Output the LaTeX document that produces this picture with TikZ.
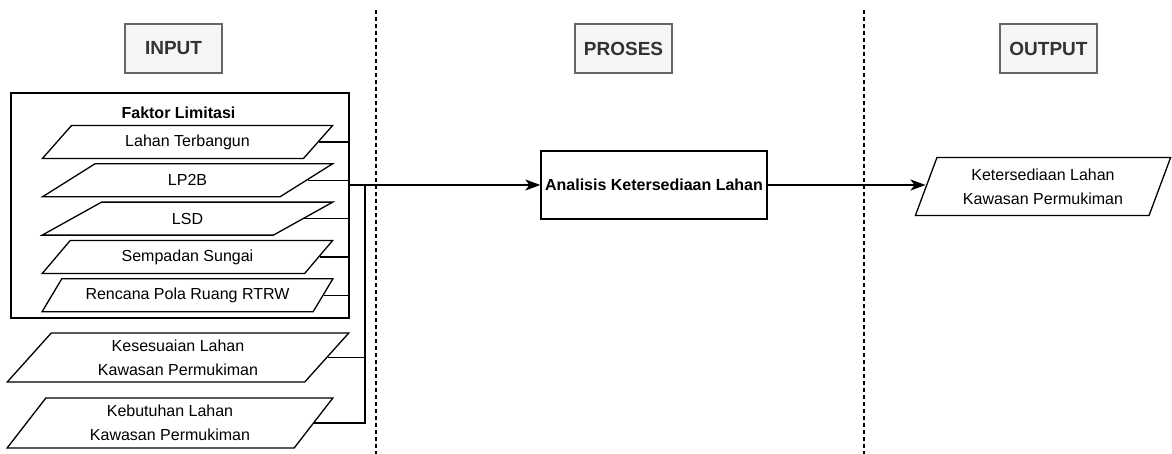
\documentclass[tikz,border=0pt]{standalone}
\usepackage{fontspec}
\setmainfont{Liberation Sans}
\usepackage{tikz}
\usetikzlibrary{%
  shapes.geometric,
  arrows.meta,
  positioning,
  calc}
\tikzset{
  %% Column headers
  hdrbox/.style={
    rectangle, draw=black!60, fill=black!4, line width=1.3pt,
    minimum width=97pt, minimum height=49pt, text=black!80,
    font=\fontsize{19}{23}\selectfont\bfseries},
  %% Group frame
  groupbox/.style={
    rectangle, draw=black, line width=1.3pt,
    minimum width=338pt, minimum height=225pt},
  grouptitle/.style={
    font=\fontsize{16}{20}\selectfont\bfseries, inner sep=0pt},
  %% Data boxes (parallelograms)
  databox/.style={
    trapezium, trapezium stretches=true,
    draw=black, line width=1.3pt, fill=white,
    align=center, inner xsep=4pt, inner ysep=2pt,
    font=\fontsize{16}{24}\selectfont},
  factorbox/.style={
    databox, trapezium left angle=48.6, trapezium right angle=131.4,
    minimum width=291pt, minimum height=33pt},
  %% Process box
  procbox/.style={
    rectangle, draw=black, line width=1.3pt,
    minimum width=226pt, minimum height=68pt, inner sep=0pt,
    font=\fontsize{16}{20}\selectfont\bfseries},
  %% Lines
  link/.style={line width=1.3pt},
  arrow/.style={-{Stealth[length=15pt, width=11pt, inset=4pt]}, line width=1.3pt},
  divider/.style={line width=1.3pt, dash pattern=on 4pt off 3pt},
}

\begin{document}
\begin{tikzpicture}[x=1pt, y=-1pt, node distance=4pt]
  \useasboundingbox (0,0) rectangle (1172,454);

  %% column dividers
  \draw[divider] (376,10) -- (376,454);
  \draw[divider] (864,10) -- (864,454);

  \node[hdrbox] (hin)  at (173.5,48.5)  {INPUT};
  \node[hdrbox] (hpro) at (623.5,48.5)  {PROSES};
  \node[hdrbox] (hout) at (1048.5,48.5) {OUTPUT};

  %% limiting factors
  \node[groupbox] (faktor) at (180,205.5) {};
  \node[grouptitle] (ftitle) at (178.5,113) {Faktor Limitasi};
  \node[factorbox] (lahan) at (187.5,142) {Lahan Terbangun};
  \node[factorbox, below=of lahan] (lp2b) {LP2B};
  \node[factorbox, below=of lp2b] (lsd) {LSD};
  \node[factorbox, below=of lsd] (sempadan) {Sempadan Sungai};
  \node[factorbox, below=of sempadan] (rtrw) {Rencana Pola Ruang RTRW};

  \node[databox, trapezium left angle=53.7, trapezium right angle=126.3,
        minimum width=342pt, minimum height=49pt] (sesuai) at (178,357.5)
        {Kesesuaian Lahan\\ Kawasan Permukiman};
  \node[databox, trapezium left angle=56.6, trapezium right angle=123.4,
        minimum width=326pt, minimum height=50pt] (butuh) at (170,423)
        {Kebutuhan Lahan\\ Kawasan Permukiman};

  \node[procbox] (analisis) at (654,185) {Analisis Ketersediaan Lahan};

  \node[databox, trapezium left angle=66.7, trapezium right angle=113.3,
        minimum width=256pt, minimum height=58pt] (sedia) at (1043,186.5)
        {Ketersediaan Lahan\\ Kawasan Permukiman};

  \foreach \f in {lahan,lp2b,lsd,sempadan,rtrw}
    \draw[link] (\f.east) -- (\f.east -| faktor.east);

  \coordinate (hub) at (365,185);
  \draw[link] (sesuai.east) -- (sesuai.east -| hub);
  \draw[link] (butuh.east) -| (hub);

  \draw[arrow] (faktor.east |- analisis.west) -- (analisis.west);
  \draw[arrow] (analisis.east) -- (analisis.east -| sedia.west);
\end{tikzpicture}
\end{document}
